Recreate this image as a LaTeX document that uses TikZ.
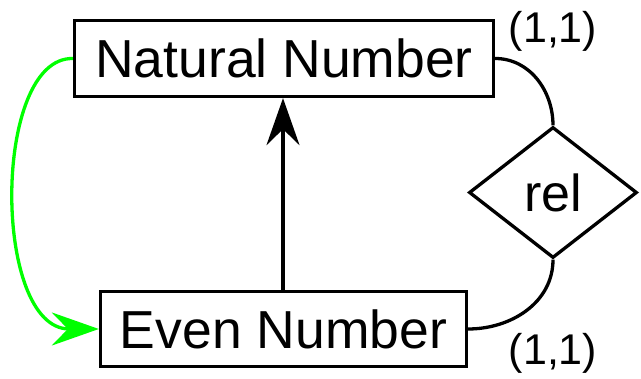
\documentclass[tikz,border=0pt]{standalone}
\usepackage{fontspec}
\setmainfont{Liberation Sans}
\usetikzlibrary{shapes.geometric,arrows.meta}
\tikzset{
  entity/.style={draw=black, line width=3.3pt, inner sep=0pt, font=\fontsize{53.5}{60}\selectfont},
  relation/.style={draw=black, line width=3.3pt, diamond, inner sep=0pt, minimum width=168pt, minimum height=131pt, font=\fontsize{52}{60}\selectfont},
  card/.style={inner sep=0pt, font=\fontsize{43}{50}\selectfont},
  isa/.style={line width=3.3pt, -{Stealth[length=47pt,width=33pt,inset=16pt]}},
  link/.style={line width=3.3pt},
}
\begin{document}
\begin{tikzpicture}[x=1pt,y=-1pt]
\useasboundingbox (0,0) rectangle (641,379);
\node[entity, minimum width=419pt, minimum height=76pt] (nat) at (284,58.5) {Natural Number};
\node[entity, minimum width=366pt, minimum height=75pt] (even) at (283.5,329) {Even Number};
\node[relation] (rel) at (553,192.5) {rel};
\node[card] (c1) at (553,31) {(1,1)};
\node[card] (c2) at (553,353) {(1,1)};
\draw[isa] (even.north -| 283,0) -- (nat.south -| 283,0);
\draw[isa, green, draw=green] (nat.west) .. controls (-8,57) and (-8,329) .. (even.west);
\draw[link] (nat.east) to[out=0,in=90] (rel.north);
\draw[link] (rel.south) to[out=-90,in=0] (even.east);
\end{tikzpicture}
\end{document}
